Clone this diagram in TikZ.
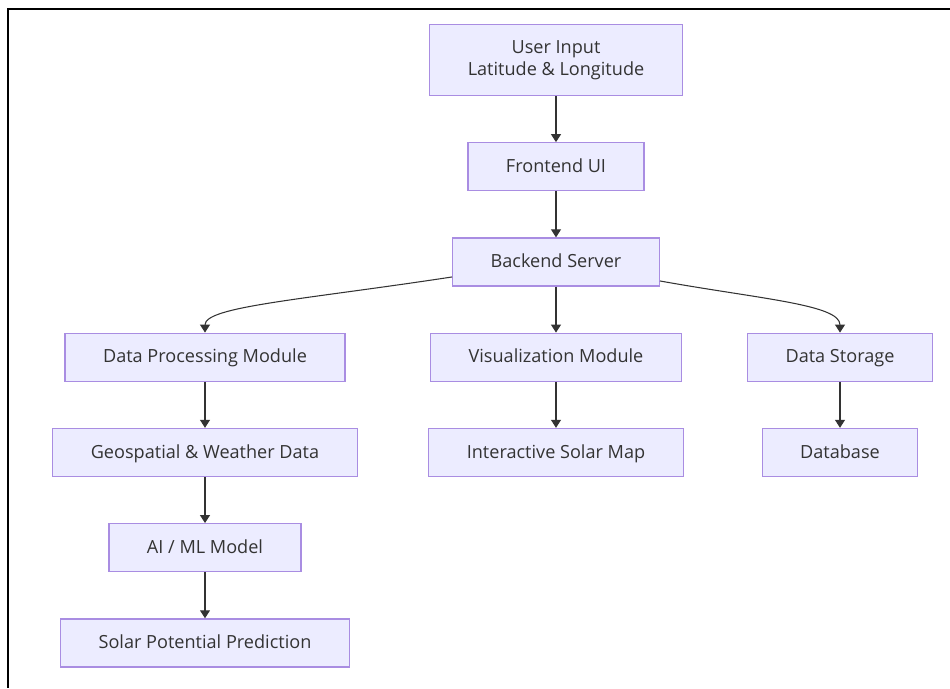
\documentclass[tikz,border=0pt]{standalone}
\usepackage{fontspec}
\setmainfont{Open Sans}
\usetikzlibrary{arrows.meta,positioning}
\definecolor{BoxFill}{HTML}{ECECFF}
\definecolor{BoxLine}{HTML}{9370DB}
\definecolor{Ink}{HTML}{333333}
\tikzset{
  module/.style={
    draw=BoxLine!80, line width=0.7pt, fill=BoxFill, text=Ink,
    font=\fontsize{10.3}{12.5}\selectfont, inner xsep=0.76cm,
    text height=1.6ex, text depth=0.4ex,
    minimum height=0.96cm, align=center
  },
  flow/.style={-{Triangle[length=1.6mm,width=2mm]}, line width=0.6pt, draw=Ink}
}

\begin{document}
\begin{tikzpicture}[node distance=0.92cm]
    \useasboundingbox (0,0) rectangle (19,-13.76);
    \draw[line width=1.1pt] (19,-0.18) -- (0.16,-0.18) -- (0.16,-13.76);
    \node[module,text height=,text depth=,minimum height=1.42cm] (user) at (11.12,-1.2) {User Input\\Latitude \& Longitude};
    \node[module,below=of user] (frontend) {Frontend UI};
    \node[module,below=of frontend] (backend) {Backend Server};
    \node[module,below=of backend] (visual) {Visualization Module};
    \node[module,below=of backend,xshift=-7.02cm] (process) {Data Processing Module};
    \node[module,below=of backend,xshift=5.68cm] (storage) {Data Storage};
    \node[module,below=of process] (geodata) {Geospatial \& Weather Data};
    \node[module,below=of visual] (solarmap) {Interactive Solar Map};
    \node[module,below=of storage] (database) {Database};
    \node[module,below=of geodata] (aiml) {AI / ML Model};
    \node[module,below=of aiml] (predict) {Solar Potential Prediction};
    \draw[flow] (user)--(frontend);
    \draw[flow] (frontend)--(backend);
    \draw[flow] (backend)--(visual);
    \draw[flow] ([yshift=-0.3cm]backend.west) .. controls +(-3.02,-0.46) and +(0,0.52) .. (process.north);
    \draw[flow] ([yshift=-0.38cm]backend.east) .. controls +(2.0,-0.36) and +(0,0.56) .. (storage.north);
    \draw[flow] (process)--(geodata);
    \draw[flow] (geodata)--(aiml);
    \draw[flow] (aiml)--(predict);
    \draw[flow] (visual)--(solarmap);
    \draw[flow] (storage)--(database);
  \end{tikzpicture}
\end{document}
